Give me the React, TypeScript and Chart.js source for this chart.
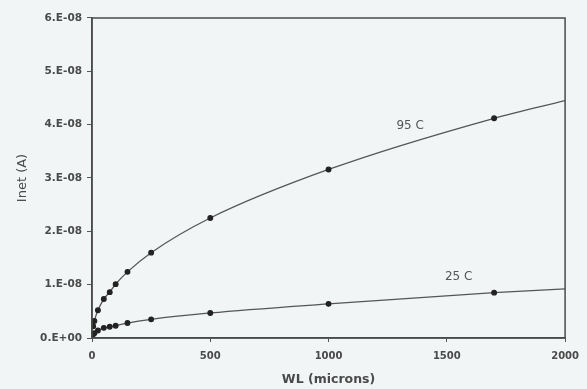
import React, { useEffect, useRef } from "react";
import { Chart, registerables } from "chart.js";

Chart.register(...registerables);

// Data
const wlMicrons = [5, 10, 25, 50, 75, 100, 150, 250, 500, 1000, 1700];
const inet95C = [2.2e-9, 3.2e-9, 5.2e-9, 7.3e-9, 8.6e-9, 1.01e-8, 1.24e-8, 1.6e-8, 2.25e-8, 3.16e-8, 4.12e-8];
const inet25C = [0.7e-9, 0.9e-9, 1.4e-9, 1.9e-9, 2.1e-9, 2.3e-9, 2.8e-9, 3.5e-9, 4.7e-9, 6.4e-9, 8.5e-9];
// Trend line end points (line continues past the last marker)
const trendEndWL = 2000;
const trend95End = 4.45e-8;
const trend25End = 9.2e-9;
// Curve labels
const seriesLabels = ["95 C", "25 C"];
const labelAt = [
  { x: 1345, y: 3.98e-8 },
  { x: 1550, y: 1.15e-8 },
];
const xTicks = [0, 500, 1000, 1500, 2000];
const xTickLabels = ["0", "500", "1000", "1500", "2000"];
const yTickLabels = ["0.E+00", "1.E-08", "2.E-08", "3.E-08", "4.E-08", "5.E-08", "6.E-08"];

const BG = "#f1f5f5";
const TEXT = "#4a4a4a";

function mk(values: number[], end: number) {
  const pts = wlMicrons.map((x, i) => ({ x, y: values[i] }));
  pts.push({ x: trendEndWL, y: end });
  return pts;
}

const framePlugin = {
  id: "frame",
  beforeDraw(chart: any) {
    const ctx = chart.ctx;
    ctx.save();
    ctx.fillStyle = BG;
    ctx.fillRect(0, 0, chart.width, chart.height);
    ctx.restore();
  },
  afterDatasetsDraw(chart: any) {
    const { ctx, chartArea, scales } = chart;
    ctx.save();
    ctx.strokeStyle = "#4a4a4a";
    ctx.lineWidth = 1.5;
    ctx.strokeRect(chartArea.left, chartArea.top, chartArea.right - chartArea.left, chartArea.bottom - chartArea.top);
    ctx.fillStyle = "#555";
    ctx.font = "12px 'DejaVu Sans'";
    ctx.textAlign = "center";
    ctx.textBaseline = "middle";
    seriesLabels.forEach((t, i) => {
      ctx.fillText(t, scales.x.getPixelForValue(labelAt[i].x), scales.y.getPixelForValue(labelAt[i].y));
    });
    ctx.restore();
  },
};

export default function App() {
  const ref = useRef<HTMLCanvasElement | null>(null);
  useEffect(() => {
    document.body.style.margin = "0";
    document.body.style.background = BG;
    const lastIdx = wlMicrons.length;
    const radius = (c: any) => (c.dataIndex === lastIdx ? 0 : 2.3);
    const chart = new Chart(ref.current!, {
      type: "scatter",
      data: {
        datasets: [
          {
            label: seriesLabels[0],
            data: mk(inet95C, trend95End),
            showLine: true,
            borderColor: "#555",
            borderWidth: 1.3,
            backgroundColor: "#222",
            pointBorderColor: "#222",
            pointRadius: radius,
            cubicInterpolationMode: "monotone",
          },
          {
            label: seriesLabels[1],
            data: mk(inet25C, trend25End),
            showLine: true,
            borderColor: "#555",
            borderWidth: 1.3,
            backgroundColor: "#222",
            pointBorderColor: "#222",
            pointRadius: radius,
            cubicInterpolationMode: "monotone",
          },
        ],
      },
      options: {
        animation: false,
        responsive: false,
        maintainAspectRatio: false,
        layout: { padding: { left: 0, right: 17, top: 18, bottom: 0 } },
        plugins: { legend: { display: false }, tooltip: { enabled: false } },
        scales: {
          x: {
            type: "linear",
            min: 0,
            max: 2000,
            afterFit: (s: any) => {
              s.height = 51;
            },
            afterBuildTicks: (s: any) => {
              s.ticks = xTicks.map((v) => ({ value: v }));
            },
            grid: { display: true, drawOnChartArea: false, drawTicks: true, tickLength: 4, color: "#555" },
            border: { display: true, color: "#4a4a4a", width: 1.5 },
            ticks: {
              color: TEXT,
              font: { family: "'DejaVu Sans'", size: 10, weight: "bold" },
              padding: 8,
              maxRotation: 0,
              callback: (_v: any, i: number) => xTickLabels[i],
            },
            title: {
              display: true,
              text: "WL (microns)",
              color: TEXT,
              font: { family: "'DejaVu Sans'", size: 12.5, weight: "bold" },
              padding: { top: 0, bottom: 2 },
            },
          },
          y: {
            type: "linear",
            min: 0,
            max: 6e-8,
            afterFit: (s: any) => {
              s.width = 92;
            },
            afterBuildTicks: (s: any) => {
              s.ticks = yTickLabels.map((_, i) => ({ value: i * 1e-8 }));
            },
            grid: { display: true, drawOnChartArea: false, drawTicks: true, tickLength: 5, color: "#555" },
            border: { display: true, color: "#4a4a4a", width: 1.5 },
            ticks: {
              color: TEXT,
              font: { family: "'DejaVu Sans'", size: 10.5, weight: "bold" },
              padding: 5,
              callback: (_v: any, i: number) => yTickLabels[i],
            },
            title: {
              display: true,
              text: "Inet (A)",
              color: TEXT,
              font: { family: "'DejaVu Sans'", size: 13 },
              padding: { top: 15, bottom: 0 },
            },
          },
        },
      },
      plugins: [framePlugin],
    } as any);
    return () => chart.destroy();
  }, []);
  return (
    <div style={{ position: "fixed", left: 0, top: 0, width: 587, height: 389, background: BG }}>
      <canvas ref={ref} width={587} height={389} style={{ display: "block", width: 587, height: 389 }} />
    </div>
  );
}
